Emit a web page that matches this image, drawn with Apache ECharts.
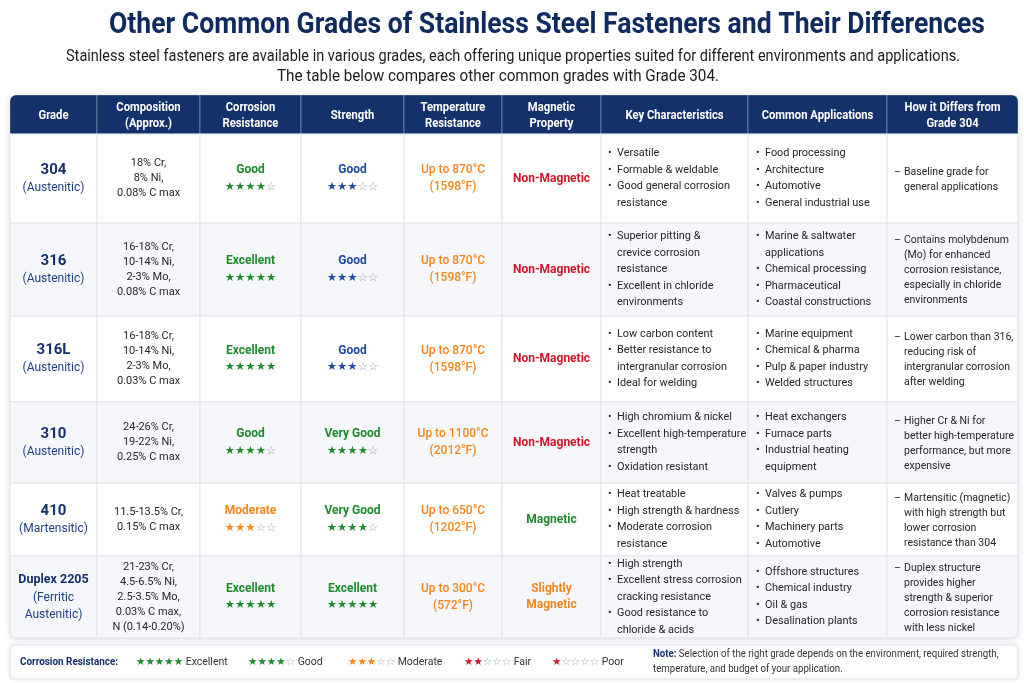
<!DOCTYPE html>
<html>
<head>
<meta charset="utf-8">
<script src="https://cdn.jsdelivr.net/npm/echarts@6/dist/echarts.min.js"></script>
<style>
  html, body { margin: 0; background: #fff; }
  #chart { width: 1024px; height: 683px; }
</style>
</head>
<body>
<div id="chart"></div>
<script>
// ---- table content ----
const headers = ['Grade', 'Composition\n(Approx.)', 'Corrosion\nResistance', 'Strength', 'Temperature\nResistance',
  'Magnetic\nProperty', 'Key Characteristics', 'Common Applications', 'How it Differs from\nGrade 304']

const grades = ['304', '316', '316L', '310', '410', 'Duplex 2205']
const gradeTypes = ['(Austenitic)', '(Austenitic)', '(Austenitic)', '(Austenitic)', '(Martensitic)', '(Ferritic\nAustenitic)']

const compositions = [
  '18% Cr,\n8% Ni,\n0.08% C max',
  '16-18% Cr,\n10-14% Ni,\n2-3% Mo,\n0.08% C max',
  '16-18% Cr,\n10-14% Ni,\n2-3% Mo,\n0.03% C max',
  '24-26% Cr,\n19-22% Ni,\n0.25% C max',
  '11.5-13.5% Cr,\n0.15% C max',
  '21-23% Cr,\n4.5-6.5% Ni,\n2.5-3.5% Mo,\n0.03% C max,\nN (0.14-0.20%)'
]

const corrosionLabels = ['Good', 'Excellent', 'Excellent', 'Good', 'Moderate', 'Excellent']
const corrosionStars = [4, 5, 5, 4, 3, 5]
const strengthLabels = ['Good', 'Good', 'Good', 'Very Good', 'Very Good', 'Excellent']
const strengthStars = [3, 3, 3, 4, 4, 5]

const temperatures = ['Up to 870°C\n(1598°F)', 'Up to 870°C\n(1598°F)', 'Up to 870°C\n(1598°F)',
  'Up to 1100°C\n(2012°F)', 'Up to 650°C\n(1202°F)', 'Up to 300°C\n(572°F)']

const magnetic = ['Non-Magnetic', 'Non-Magnetic', 'Non-Magnetic', 'Non-Magnetic', 'Magnetic', 'Slightly\nMagnetic']

const keyCharacteristics = [
  ['Versatile', 'Formable & weldable', 'Good general corrosion\nresistance'],
  ['Superior pitting &\ncrevice corrosion\nresistance', 'Excellent in chloride\nenvironments'],
  ['Low carbon content', 'Better resistance to\nintergranular corrosion', 'Ideal for welding'],
  ['High chromium & nickel', 'Excellent high-temperature\nstrength', 'Oxidation resistant'],
  ['Heat treatable', 'High strength & hardness', 'Moderate corrosion\nresistance'],
  ['High strength', 'Excellent stress corrosion\ncracking resistance', 'Good resistance to\nchloride & acids']
]

const applications = [
  ['Food processing', 'Architecture', 'Automotive', 'General industrial use'],
  ['Marine & saltwater\napplications', 'Chemical processing', 'Pharmaceutical', 'Coastal constructions'],
  ['Marine equipment', 'Chemical & pharma', 'Pulp & paper industry', 'Welded structures'],
  ['Heat exchangers', 'Furnace parts', 'Industrial heating\nequipment'],
  ['Valves & pumps', 'Cutlery', 'Machinery parts', 'Automotive'],
  ['Offshore structures', 'Chemical industry', 'Oil & gas', 'Desalination plants']
]

const differences = [
  'Baseline grade for\ngeneral applications',
  'Contains molybdenum\n(Mo) for enhanced\ncorrosion resistance,\nespecially in chloride\nenvironments',
  'Lower carbon than 316,\nreducing risk of\nintergranular corrosion\nafter welding',
  'Higher Cr & Ni for\nbetter high-temperature\nperformance, but more\nexpensive',
  'Martensitic (magnetic)\nwith high strength but\nlower corrosion\nresistance than 304',
  'Duplex structure\nprovides higher\nstrength & superior\ncorrosion resistance\nwith less nickel'
]

const legendLabels = ['Excellent', 'Good', 'Moderate', 'Fair', 'Poor']
const legendStars = [5, 4, 3, 2, 1]

// ---- layout & style ----
const colEdges = [0, 87, 190, 291, 394, 492, 591, 738, 877, 1008]
const rowEdges = [0, 39, 128, 221, 307, 388, 461, 543]
const legendX = [136, 248, 348, 464, 552]

const NAVY = '#14316b'
const GREEN = '#1d8b2d'
const BLUE = '#1f4aa3'
const ORANGE = '#f4861c'
const RED = '#d3152b'
const TEXT = '#262626'
const STAR_OFF = '#9aa1aa'
const FONT = 'Roboto, "Noto Sans", sans-serif'
const STAR_FONT = '"DejaVu Sans", sans-serif'

const corrosionColor = { 'Excellent': GREEN, 'Good': GREEN, 'Moderate': ORANGE }
const strengthColor = { 'Excellent': GREEN, 'Very Good': GREEN, 'Good': BLUE }
const magneticColor = { 'Non-Magnetic': RED, 'Magnetic': GREEN, 'Slightly\nMagnetic': ORANGE }
const legendColor = [GREEN, GREEN, ORANGE, RED, RED]

const measureCtx = document.createElement('canvas').getContext('2d')
function fitScale(text, font, target) {
  measureCtx.font = font
  return target / measureCtx.measureText(text).width
}

function starText(n) {
  return '{f|' + '★'.repeat(n) + '}' + (n < 5 ? '{e|' + '☆'.repeat(5 - n) + '}' : '')
}

function bulletList(items, x, cy, mark, lh, indent, size) {
  const total = items.reduce((s, t) => s + t.split('\n').length, 0)
  let y = cy - total * lh / 2
  const out = []
  items.forEach(t => {
    const base = { y, verticalAlign: 'top', lineHeight: lh, fontSize: size, fontFamily: FONT, fill: TEXT }
    out.push({ type: 'text', style: Object.assign({}, base, { text: mark, x }) })
    out.push({ type: 'text', style: Object.assign({}, base, { text: t, x: x + indent }) })
    y += t.split('\n').length * lh
  })
  return out
}

function ratingCell(label, n, color, cx, cy) {
  return {
    type: 'text',
    style: {
      text: '{l|' + label + '}\n' + starText(n),
      x: cx, y: cy, align: 'center', verticalAlign: 'middle',
      rich: {
        l: { fill: color, fontSize: 12, fontWeight: 'bold', fontFamily: FONT, lineHeight: 17 },
        f: { fill: color, fontSize: 11.5, fontFamily: STAR_FONT, lineHeight: 17 },
        e: { fill: STAR_OFF, fontSize: 11.5, fontFamily: STAR_FONT, lineHeight: 17 }
      }
    }
  }
}

// one datum per cell: [x0, y0, x1, y1, col, row]
const cells = []
for (let r = 0; r < rowEdges.length - 1; r++) {
  for (let c = 0; c < colEdges.length - 1; c++) {
    cells.push([colEdges[c], rowEdges[r], colEdges[c + 1], rowEdges[r + 1], c, r])
  }
}
const lastCol = colEdges.length - 2
const lastRow = rowEdges.length - 2

function renderCell(params, api) {
  const p0 = api.coord([api.value(0), api.value(1)])
  const p1 = api.coord([api.value(2), api.value(3)])
  const c = api.value(4), r = api.value(5)
  const x = p0[0], y = p0[1], w = p1[0] - p0[0], h = p1[1] - p0[1]
  const cx = x + w / 2, cy = y + h / 2
  const children = []
  let radius = [0, 0, 0, 0]
  if (r === 0 && c === 0) radius = [6, 0, 0, 0]
  if (r === 0 && c === lastCol) radius = [0, 6, 0, 0]
  if (r === lastRow && c === 0) radius = [0, 0, 0, 6]
  if (r === lastRow && c === lastCol) radius = [0, 0, 6, 0]

  if (r === 0) {
    children.push({ type: 'rect', shape: { x, y, width: w, height: h, r: radius },
      style: { fill: NAVY, stroke: 'rgba(255,255,255,0.3)', lineWidth: 1 } })
    children.push({ type: 'text', x: cx, y: cy + 1, scaleX: 0.9,
      style: { text: headers[c], align: 'center', verticalAlign: 'middle', fill: '#fff',
        fontSize: 12.5, fontWeight: 'bold', fontFamily: FONT, lineHeight: 16 } })
    return { type: 'group', children }
  }

  const i = r - 1
  children.push({ type: 'rect', shape: { x, y, width: w, height: h, r: radius },
    style: { fill: i % 2 ? '#f5f7fb' : '#ffffff', stroke: '#e1e5ec', lineWidth: 1 } })

  if (c === 0) {
    const long = grades[i].length > 5
    const lines = gradeTypes[i].split('\n').map(t => '{t|' + t + '}').join('\n')
    children.push({ type: 'text', style: {
      text: '{g|' + grades[i] + '}\n' + lines, x: cx, y: cy, align: 'center', verticalAlign: 'middle',
      rich: {
        g: { fill: NAVY, fontSize: long ? 12.5 : 15, fontWeight: 'bold', fontFamily: FONT, lineHeight: 18 },
        t: { fill: '#1f3f82', fontSize: 12, fontFamily: FONT, lineHeight: 17 }
      } } })
  } else if (c === 1) {
    children.push({ type: 'text', style: { text: compositions[i], x: cx, y: cy, align: 'center',
      verticalAlign: 'middle', fill: TEXT, fontSize: 11, fontFamily: FONT, lineHeight: 15 } })
  } else if (c === 2) {
    children.push(ratingCell(corrosionLabels[i], corrosionStars[i], corrosionColor[corrosionLabels[i]], cx, cy))
  } else if (c === 3) {
    children.push(ratingCell(strengthLabels[i], strengthStars[i], strengthColor[strengthLabels[i]], cx, cy))
  } else if (c === 4) {
    children.push({ type: 'text', style: { text: temperatures[i], x: cx, y: cy, align: 'center',
      verticalAlign: 'middle', fill: ORANGE, fontSize: 12, fontWeight: 500, fontFamily: FONT, lineHeight: 17 } })
  } else if (c === 5) {
    children.push({ type: 'text', style: { text: magnetic[i], x: cx, y: cy, align: 'center',
      verticalAlign: 'middle', fill: magneticColor[magnetic[i]], fontSize: 12, fontWeight: 'bold',
      fontFamily: FONT, lineHeight: 16 } })
  } else if (c === 6) {
    children.push(...bulletList(keyCharacteristics[i], x + 7, cy, '•', 16.5, 9, 10.9))
  } else if (c === 7) {
    children.push(...bulletList(applications[i], x + 8, cy, '•', 16.5, 9, 10.9))
  } else {
    children.push(...bulletList([differences[i]], x + 7, cy + 1, '–', 15, 10, 10.5))
  }
  return { type: 'group', children }
}

// ---- title, subtitle, legend ----
const titleText = 'Other Common Grades of Stainless Steel Fasteners and Their Differences'
const subLine1 = 'Stainless steel fasteners are available in various grades, each offering unique properties suited for different environments and applications.'
const subLine2 = 'The table below compares other common grades with Grade 304.'
const noteLine1 = ' Selection of the right grade depends on the environment, required strength,'
const noteLine2 = 'temperature, and budget of your application.'

const titleFont = 'bold 30px Roboto'
const subFont = '16px Roboto'

const graphics = [
  { type: 'text', x: 547, y: 25, scaleX: fitScale(titleText, titleFont, 876), z: 10,
    style: { text: titleText, align: 'center', verticalAlign: 'middle', fill: '#0f2a5e',
      fontSize: 30, fontWeight: 'bold', fontFamily: 'Roboto' } },
  { type: 'text', x: 513, y: 57, scaleX: fitScale(subLine1, subFont, 894), z: 10,
    style: { text: subLine1, align: 'center', verticalAlign: 'middle', fill: '#1c1c1c',
      fontSize: 16, fontFamily: 'Roboto' } },
  { type: 'text', x: 498, y: 77, scaleX: fitScale(subLine2, subFont, 442), z: 10,
    style: { text: subLine2, align: 'center', verticalAlign: 'middle', fill: '#1c1c1c',
      fontSize: 16, fontFamily: 'Roboto' } },
  { type: 'rect', z: 0, shape: { x: 10, y: 95, width: 1008, height: 543, r: 6 },
    style: { fill: '#fff', shadowBlur: 6, shadowColor: 'rgba(20,40,80,0.18)', shadowOffsetY: 1 } },
  { type: 'rect', z: 0, shape: { x: 10, y: 645, width: 1008, height: 34, r: 4 },
    style: { fill: '#fff', stroke: '#e1e5ec', lineWidth: 1, shadowBlur: 4, shadowColor: 'rgba(20,40,80,0.10)' } },
  { type: 'text', x: 20, y: 662, scaleX: 0.9, z: 10,
    style: { text: 'Corrosion Resistance:', verticalAlign: 'middle', fill: NAVY, fontSize: 11,
      fontWeight: 'bold', fontFamily: FONT } },
  { type: 'text', x: 653, y: 662, scaleX: 0.92, z: 10,
    style: { text: '{n|Note:}{t|' + noteLine1 + '}\n{t|' + noteLine2 + '}', verticalAlign: 'middle',
      rich: {
        n: { fill: NAVY, fontSize: 10.5, fontWeight: 'bold', fontFamily: FONT, lineHeight: 15 },
        t: { fill: '#333', fontSize: 10.5, fontFamily: FONT, lineHeight: 15 }
      } } }
]
legendLabels.forEach((label, k) => {
  graphics.push({ type: 'text', x: legendX[k], y: 662, z: 10,
    style: { text: starText(legendStars[k]) + '{l| ' + label + '}', verticalAlign: 'middle',
      rich: {
        f: { fill: legendColor[k], fontSize: 10.5, fontFamily: STAR_FONT },
        e: { fill: STAR_OFF, fontSize: 10.5, fontFamily: STAR_FONT },
        l: { fill: '#333', fontSize: 10.5, fontFamily: FONT }
      } } })
})

const chart = echarts.init(document.getElementById('chart'))
chart.setOption({
  animation: false,
  backgroundColor: '#fff',
  graphic: { elements: graphics },
  grid: { left: 10, top: 95, width: 1008, height: 543 },
  xAxis: { type: 'value', min: 0, max: 1008, show: false },
  yAxis: { type: 'value', min: 0, max: 543, inverse: true, show: false },
  series: [{
    type: 'custom',
    renderItem: renderCell,
    encode: { x: [0, 2], y: [1, 3] },
    data: cells,
    z: 5
  }]
})
</script>
</body>
</html>
